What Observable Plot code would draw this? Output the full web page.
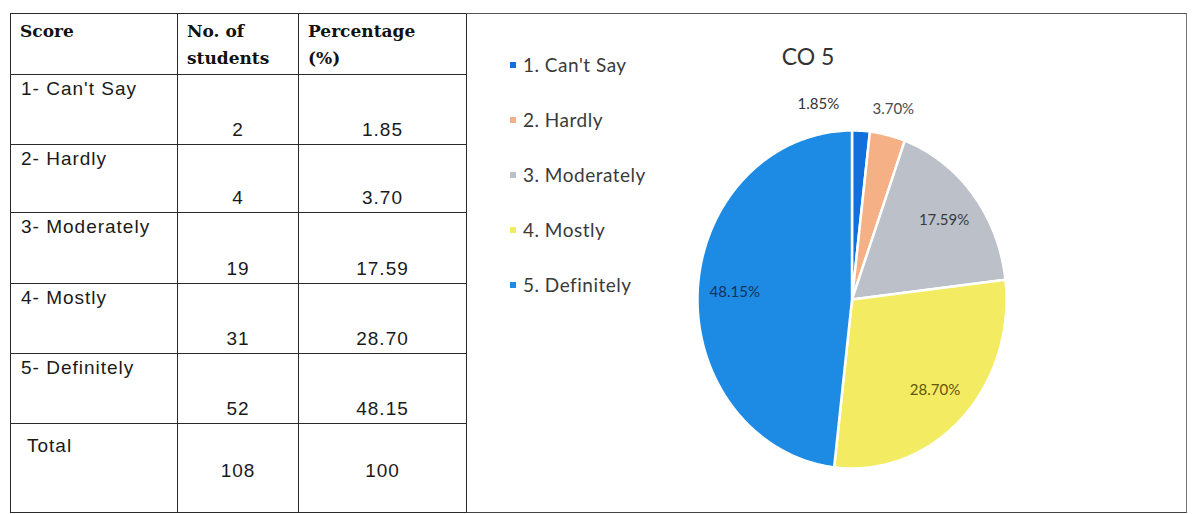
<!DOCTYPE html>
<html>
<head>
<meta charset="utf-8">
<script src="https://cdn.jsdelivr.net/npm/d3@7"></script>
<script src="https://cdn.jsdelivr.net/npm/@observablehq/plot@0.6"></script>
<style>
  html, body { margin: 0; padding: 0; background: #fff; }
  #page { position: relative; width: 1199px; height: 514px; overflow: hidden; background: #fff; }
  #tbl { position: absolute; left: 10px; top: 13px; border-collapse: collapse; table-layout: fixed; }
  #tbl td { border: 1.5px solid #2a2a2a; padding: 0; position: relative; font-family: "Liberation Sans", Arial, sans-serif; font-size: 19px; letter-spacing: 1px; color: #1a1a1a; }
  #tbl td.hd { font-family: "DejaVu Serif", serif; font-weight: bold; font-size: 17px; letter-spacing: 0; vertical-align: top; padding: 4px 0 0 9px; line-height: 27px; color: #111; }
  #tbl td.lab { vertical-align: top; padding: 3px 0 0 10px; }
  #tbl td.num { vertical-align: bottom; text-align: center; padding-bottom: 3px; }
  #tbl td.tlab { vertical-align: top; padding: 11px 0 0 16px; }
  #tbl td.tnum { vertical-align: top; text-align: center; padding-top: 36px; }
  #panel { position: absolute; left: 466px; top: 13px; width: 720px; height: 498px; border-top: 1.5px solid #555; border-right: 1.5px solid #777; border-bottom: 1.5px solid #444; }
  #plotwrap { position: absolute; left: 466px; top: 13px; }
  #title { position: absolute; left: 758px; width: 100px; text-align: center; top: 42px; font-family: Lato, sans-serif; font-size: 23px; color: #333; }
  #legend { position: absolute; left: 506px; top: 53px; font-family: Lato, sans-serif; font-size: 19px; color: #3a3a3a; letter-spacing: 0.5px; }
  #legend .item { height: 55px; display: flex; align-items: flex-start; }
  #legend .sw { width: 6px; height: 6px; margin: 9px 7px 0 4px; }
</style>
</head>
<body>
<div id="page">
  <table id="tbl"></table>
  <div id="panel"></div>
  <div id="plotwrap"></div>
  <div id="title"></div>
  <div id="legend"></div>
</div>
<script>
// ---- data ----
const scoreLabels = ["1- Can't Say", "2- Hardly", "3- Moderately", "4- Mostly", "5- Definitely"];
const categories = ["1. Can't Say", "2. Hardly", "3. Moderately", "4. Mostly", "5. Definitely"];
const students = [2, 4, 19, 31, 52];
const percentages = [1.85, 3.70, 17.59, 28.70, 48.15];
const percentText = ["1.85", "3.70", "17.59", "28.70", "48.15"];
const totalLabel = "Total";
const totalStudents = 108;
const totalPercent = 100;
const headerScore = "Score";
const headerStudents = ["No. of", "students"];
const headerPercent = ["Percentage", "(%)"];
const chartTitle = "CO 5";

// ---- styles ----
const sliceColors = ["#1270dc", "#f5b085", "#bcc1c9", "#f3ec62", "#1d8be4"];
const labelColors = ["#333333", "#4a4a4a", "#363a42", "#65530e", "#14315a"];
const colWidths = [167, 121, 168];
const rowHeights = [61, 70, 68, 71, 70, 70, 89];

// ---- table ----
const tbl = document.getElementById("tbl");
const colgroup = document.createElement("colgroup");
colWidths.forEach(w => { const c = document.createElement("col"); c.style.width = w + "px"; colgroup.appendChild(c); });
tbl.appendChild(colgroup);
function row(h, cells) {
  const tr = document.createElement("tr");
  tr.style.height = h + "px";
  cells.forEach(([cls, html]) => { const td = document.createElement("td"); td.className = cls; td.innerHTML = html; tr.appendChild(td); });
  tbl.appendChild(tr);
}
row(rowHeights[0], [["hd", headerScore], ["hd", headerStudents.join("<br>")], ["hd", headerPercent.join("<br>")]]);
scoreLabels.forEach((s, i) => row(rowHeights[i + 1], [["lab", s], ["num", String(students[i])], ["num", percentText[i]]]));
row(rowHeights[6], [["tlab", totalLabel], ["tnum", String(totalStudents)], ["tnum", String(totalPercent)]]);

// ---- title & legend ----
document.getElementById("title").textContent = chartTitle;
const legend = document.getElementById("legend");
categories.forEach((c, i) => {
  const it = document.createElement("div"); it.className = "item";
  const sw = document.createElement("div"); sw.className = "sw"; sw.style.background = sliceColors[i];
  const tx = document.createElement("span"); tx.textContent = c;
  it.appendChild(sw); it.appendChild(tx); legend.appendChild(it);
});

// ---- pie ----
const arcs = d3.pie().sort(null).value(d => d)(percentages);
const wedgePts = [];
arcs.forEach((a, i) => {
  const cat = categories[i];
  wedgePts.push({cat, x: 0, y: 0});
  const n = Math.max(2, Math.ceil((a.endAngle - a.startAngle) / (Math.PI / 180)));
  for (let k = 0; k <= n; k++) {
    const t = a.startAngle + (a.endAngle - a.startAngle) * k / n;
    wedgePts.push({cat, x: Math.sin(t), y: Math.cos(t)});
  }
  wedgePts.push({cat, x: 0, y: 0});
});
const labelData = arcs.map((a, i) => {
  const m = (a.startAngle + a.endAngle) / 2;
  const r = i < 2 ? 1.16 : 0.76;
  return {cat: categories[i], text: d3.format(".2f")(percentages[i]) + "%", x: r * Math.sin(m), y: r * Math.cos(m), color: labelColors[i], i};
});

const chart = Plot.plot({
  width: 720,
  height: 499,
  marginLeft: 231,
  marginRight: 180,
  marginTop: 117,
  marginBottom: 44,
  x: {domain: [-1, 1], axis: null},
  y: {domain: [-1, 1], axis: null},
  color: {type: "ordinal", domain: categories, range: sliceColors},
  style: {background: "transparent", overflow: "visible"},
  marks: [
    Plot.line(wedgePts, {x: "x", y: "y", z: "cat", fill: "cat", stroke: "white", strokeWidth: 2.5, strokeLinejoin: "round", curve: "linear"}),
    Plot.text(labelData.filter(d => d.i !== 0), {x: "x", y: "y", text: "text", fill: "color", fontSize: 15, fontFamily: "Lato, sans-serif"}),
    Plot.text(labelData.filter(d => d.i === 0), {x: "x", y: "y", text: "text", fill: "color", fontSize: 15, fontFamily: "Lato, sans-serif", dx: -44})
  ]
});
document.getElementById("plotwrap").appendChild(chart);
</script>
</body>
</html>
